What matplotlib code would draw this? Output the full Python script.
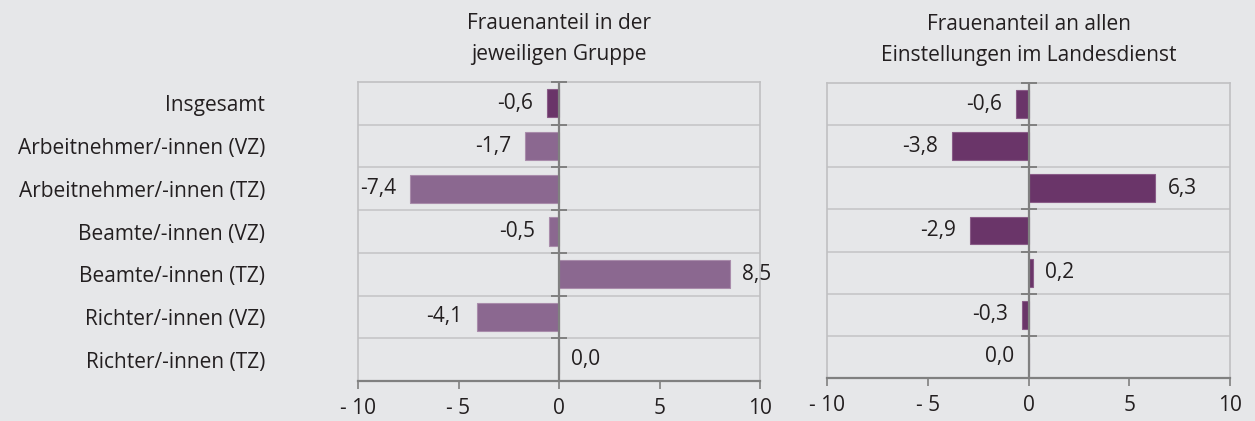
import numpy as np
import matplotlib.pyplot as plt

plt.rcParams['font.family'] = ['Open Sans', 'DejaVu Sans']

categories = ['Insgesamt', 'Arbeitnehmer/-innen (VZ)', 'Arbeitnehmer/-innen (TZ)',
              'Beamte/-innen (VZ)', 'Beamte/-innen (TZ)', 'Richter/-innen (VZ)',
              'Richter/-innen (TZ)']
left_values = [-0.6, -1.7, -7.4, -0.5, 8.5, -4.1, 0.0]
# last value is a rounded small negative (label sits left of zero)
right_values = [-0.6, -3.8, 6.3, -2.9, 0.2, -0.3, -0.0]
left_title = 'Frauenanteil in der\njeweiligen Gruppe'
right_title = 'Frauenanteil an allen\nEinstellungen im Landesdienst'
xticks = [-10, -5, 0, 5, 10]
xtick_labels = ['- 10', '- 5', '0', '5', '10']

BG = '#e6e7e9'
DARK = '#6a3569'
LIGHT = '#8b6890'
TEXT = '#231f20'
FS = 15

fig = plt.figure(figsize=(12.55, 4.21), dpi=100, facecolor=BG)
ax1 = fig.add_axes([0.2853, 0.0950, 0.3203, 0.7102])
ax2 = fig.add_axes([0.6590, 0.1021, 0.3211, 0.7007])


def draw_panel(ax, values, colors, edges, title, show_labels):
    ax.set_facecolor(BG)
    y = np.arange(len(values))
    ax.barh(y, values, height=0.66, color=colors, edgecolor=edges, linewidth=0.8, zorder=3)
    ax.set_xlim(-10, 10)
    ax.set_ylim(len(values) - 0.5, -0.5)

    # row separators
    for b in np.arange(0.5, len(values) - 0.5, 1):
        ax.axhline(b, color='#c6c6c8', linewidth=1.2, zorder=1)
    # zero line with small cross ticks
    ax.axvline(0, color='#808080', linewidth=1.6, zorder=4)
    bounds = np.arange(-0.5, len(values), 1)
    ax.plot(np.zeros(len(bounds)), bounds, linestyle='none', marker='_',
            markersize=12, markeredgewidth=1.4, color='#808080', zorder=4, clip_on=False)

    for s in ['top', 'left', 'right']:
        ax.spines[s].set_color('#c0c0c2')
        ax.spines[s].set_linewidth(1.2)
    ax.spines['bottom'].set_color('#808080')
    ax.spines['bottom'].set_linewidth(1.6)

    ax.set_xticks(xticks)
    ax.set_xticklabels(xtick_labels, fontsize=FS, color=TEXT)
    ax.tick_params(axis='x', direction='out', length=6, width=1.2, color='#808080', pad=6)

    ax.set_yticks(y)
    if show_labels:
        ax.set_yticklabels(categories, fontsize=FS, color=TEXT)
        ax.tick_params(axis='y', length=0, pad=67)
    else:
        ax.set_yticklabels([])
        ax.tick_params(axis='y', length=0)

    for yi, v in zip(y, values):
        label = f'{abs(v):.1f}' if v == 0 else f'{v:.1f}'
        label = label.replace('.', ',')
        if np.signbit(v):
            ax.text(v - 0.7, yi, label, ha='right', va='center', fontsize=FS, color=TEXT, zorder=5)
        else:
            ax.text(v + 0.6, yi, label, ha='left', va='center', fontsize=FS, color=TEXT, zorder=5)

    ax.set_title(title, fontsize=FS, color=TEXT, pad=16, linespacing=1.6)


left_colors = [DARK] + [LIGHT] * (len(left_values) - 1)
left_edges = ['#8a5c88'] + ['#a98cab'] * (len(left_values) - 1)
draw_panel(ax1, left_values, left_colors, left_edges, left_title, True)
draw_panel(ax2, right_values, [DARK] * len(right_values), ['#8a5c88'] * len(right_values),
           right_title, False)

fig.savefig('out.png', dpi=100, facecolor=BG)
